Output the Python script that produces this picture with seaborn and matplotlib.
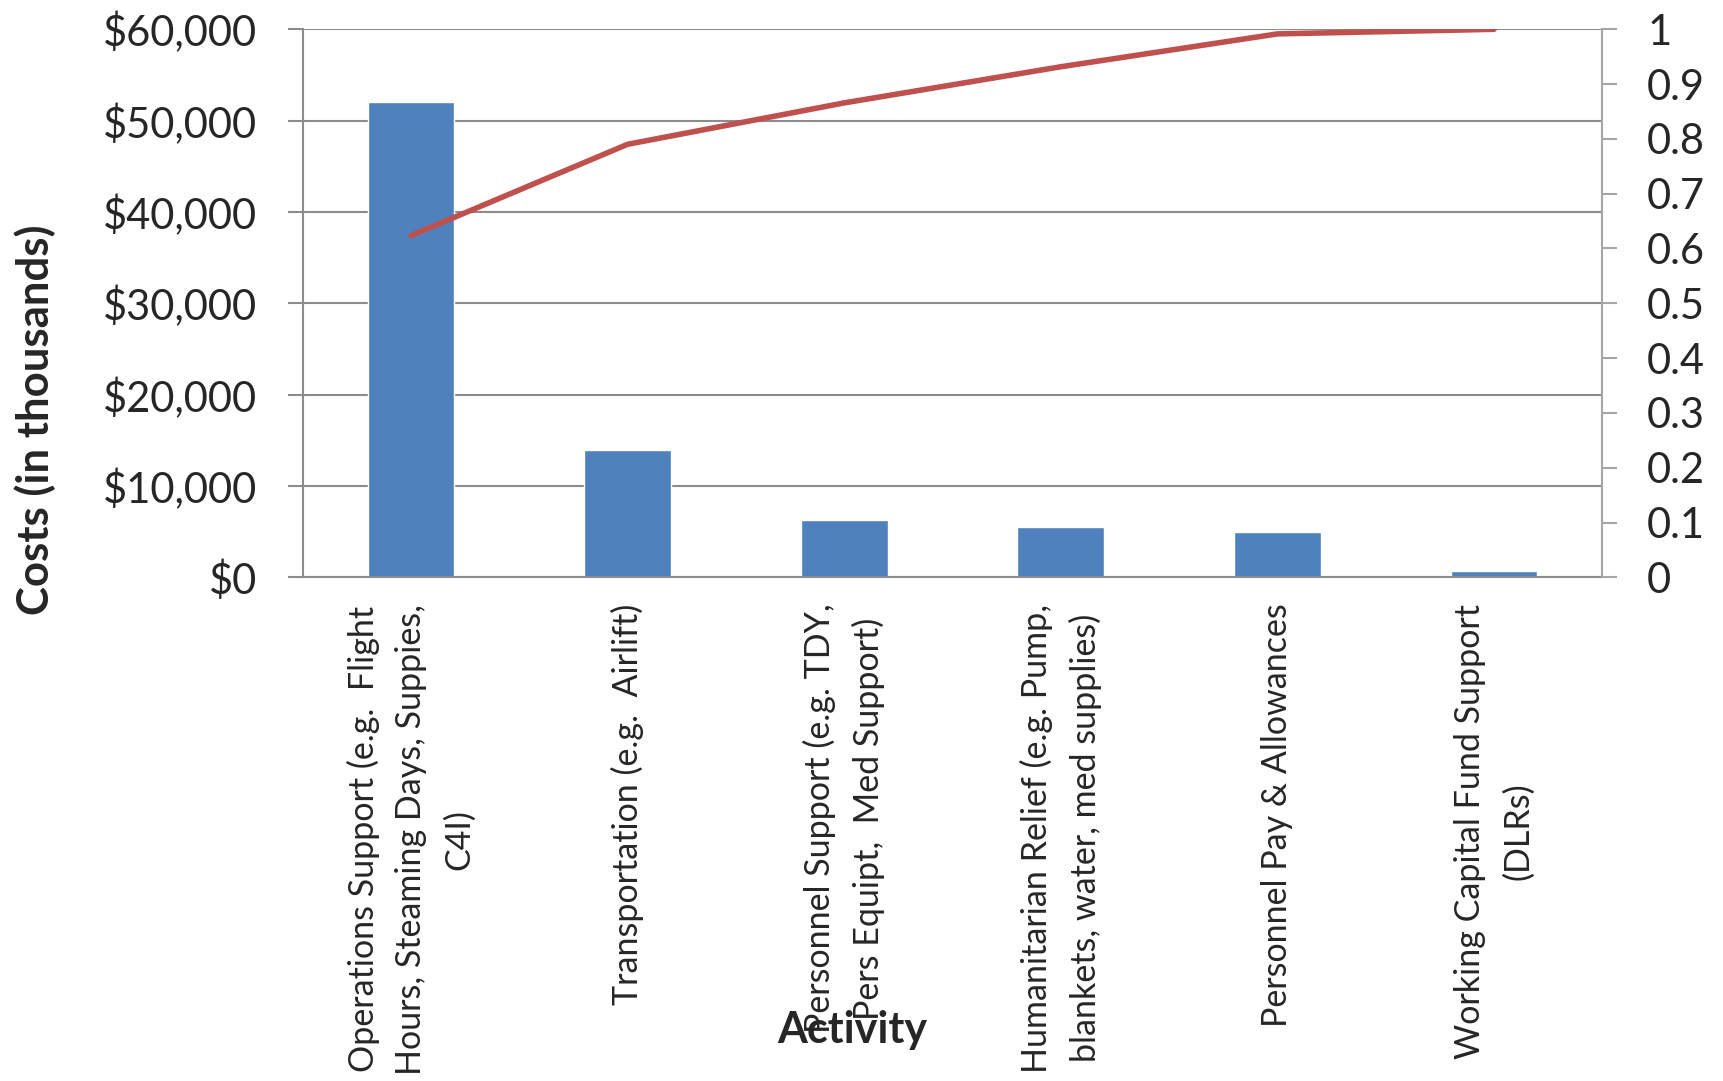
import numpy as np
import pandas as pd
import matplotlib
matplotlib.use("Agg")
import matplotlib.pyplot as plt
import seaborn as sns

# ---- data ----
categories = [
    "Operations Support (e.g. Flight Hours, Steaming Days, Suppies, C4I)",
    "Transportation (e.g. Airlift)",
    "Personnel Support (e.g. TDY, Pers Equipt, Med Support)",
    "Humanitarian Relief (e.g. Pump, blankets, water, med supplies)",
    "Personnel Pay & Allowances",
    "Working Capital Fund Support (DLRs)",
]
tick_labels = [
    "Operations Support (e.g.  Flight\nHours, Steaming Days, Suppies,\nC4I)",
    "Transportation (e.g.  Airlift)",
    "Personnel Support (e.g. TDY,\nPers Equipt,  Med Support)",
    "Humanitarian Relief (e.g. Pump,\nblankets, water, med supplies)",
    "Personnel Pay & Allowances",
    "Working Capital Fund Support\n(DLRs)",
]
costs = [52000, 13900, 6300, 5500, 5000, 700]
cost_ticks = [0, 10000, 20000, 30000, 40000, 50000, 60000]
share_ticks = [0, 0.1, 0.2, 0.3, 0.4, 0.5, 0.6, 0.7, 0.8, 0.9, 1.0]

cum_share = np.cumsum(costs) / np.sum(costs)
df = pd.DataFrame({"Activity": categories, "Cost": costs,
                   "pos": np.arange(len(categories)), "cum": cum_share})

sns.set_theme(style="white")
plt.rcParams["font.family"] = ["Lato", "DejaVu Sans"]

BAR = "#4F81BD"
LINE = "#C0504D"
GRID = "#8C8C8C"

W, H = 1723, 1081
fig = plt.figure(figsize=(W / 100, H / 100), dpi=100)
L, R, T, B = 302.7, 1602.3, 29.3, 577.3
ax = fig.add_axes([L / W, 1 - B / H, (R - L) / W, (B - T) / H])

sns.barplot(data=df, x="Activity", y="Cost", color=BAR, saturation=1,
            width=0.4, ax=ax)
ax.set_xlim(-0.5, len(categories) - 0.5)
ax.set_ylim(0, 60000)
ax.set_yticks(cost_ticks)
ax.set_yticklabels([f"${v:,.0f}" for v in cost_ticks], fontsize=30)
ax.set_xticks(range(len(categories)))
ax.set_xticklabels(tick_labels, rotation=90, ha="center", va="top",
                   multialignment="center", linespacing=1.6, fontsize=24.5)
ax.tick_params(axis="x", length=0, pad=19)
ax.tick_params(axis="y", direction="out", length=10.8, width=1.5,
               color=GRID, pad=22, left=True)
ax.set_xlabel("")
ax.set_ylabel("")
ax.yaxis.grid(True, color=GRID, linewidth=1.5)
ax.set_axisbelow(True)
for s in ["left", "bottom"]:
    ax.spines[s].set_color(GRID)
    ax.spines[s].set_linewidth(1.5)
ax.spines["top"].set_visible(False)
ax.spines["right"].set_visible(False)

ax2 = ax.twinx()
sns.lineplot(data=df, x="pos", y="cum", color=LINE, linewidth=4,
             ax=ax2, sort=True)
ax2.set_ylim(0, 1)
ax2.set_yticks(share_ticks)
ax2.set_yticklabels([f"{v:g}" for v in share_ticks], fontsize=30)
ax2.tick_params(axis="y", direction="out", length=10.8, width=1.5,
                color="#A6A6A6", pad=21.5, right=True)
ax2.set_ylabel("")
ax2.set_xlabel("")
for s in ["left", "top", "bottom"]:
    ax2.spines[s].set_visible(False)
ax2.spines["right"].set_color("#A6A6A6")
ax2.spines["right"].set_linewidth(1.5)
ax2.grid(False)
ax2.set_xlim(-0.5, len(categories) - 0.5)

fig.text(35 / W, 1 - 420 / H, "Costs (in thousands)", rotation=90,
         ha="center", va="center", fontsize=31.5, fontweight="bold")
fig.text(852 / W, 1 - 1030 / H, "Activity", ha="center", va="center",
         fontsize=31, fontweight="bold")

fig.savefig("out.png", dpi=100)
